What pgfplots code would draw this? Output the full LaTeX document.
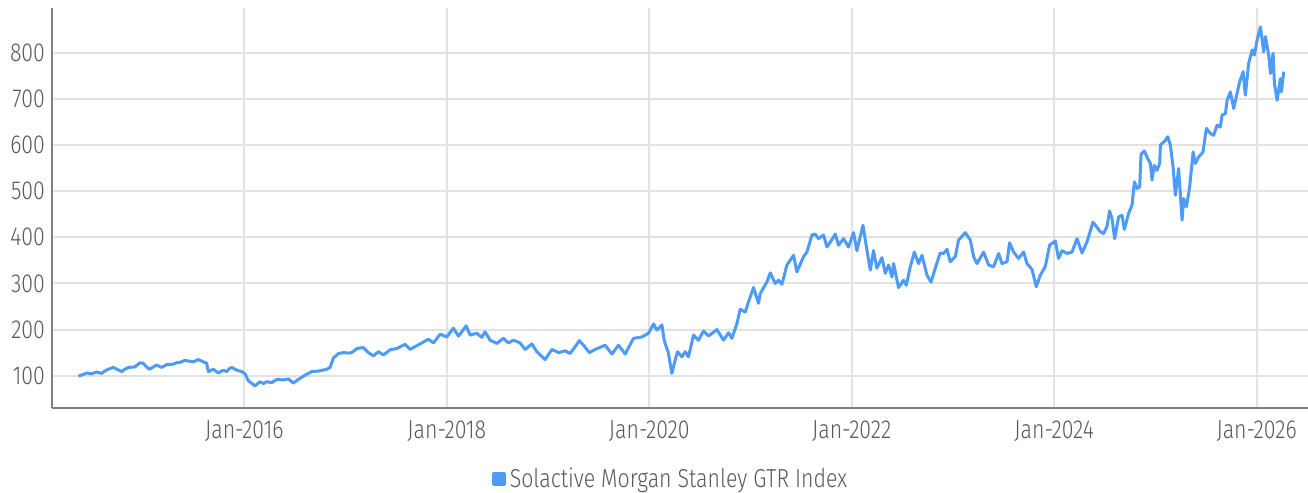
\documentclass[border=0pt]{standalone}
\usepackage{fontspec}
\setmainfont{Fira Sans Light}[FakeStretch=0.82]
\usepackage{pgfplots}
\pgfplotsset{compat=1.18}
\definecolor{lineblue}{RGB}{77,155,247}
\definecolor{gridgray}{RGB}{226,226,226}
\definecolor{axisgray}{RGB}{128,128,128}
\definecolor{textgray}{RGB}{89,89,89}
\begin{document}
\begin{tikzpicture}
\path[use as bounding box] (-26pt,-42.5pt) rectangle (628pt,204pt);
\begin{axis}[
  scale only axis, width=628pt, height=200pt,
  xmin=2014.10, xmax=2026.507, ymin=30, ymax=897,
  axis x line*=bottom, axis y line*=left,
  axis line style={axisgray, line width=1pt, -},
  xtick={2016,2018,2020,2022,2024,2026},
  xticklabels={Jan-2016,Jan-2018,Jan-2020,Jan-2022,Jan-2024,Jan-2026},
  ytick={100,200,300,400,500,600,700,800},
  yticklabels={100,200,300,400,500,600,700,800},
  major tick length=0pt,
  grid=major, major grid style={gridgray, line width=1pt},
  tick label style={font=\fontsize{13}{15}\selectfont, text=textgray},
  xticklabel style={yshift=-3pt},
  legend style={at={(0.4935,-0.1775)}, anchor=center, draw=none, fill=none,
    font=\fontsize{13}{15}\selectfont, text=textgray},
  legend image code/.code={\fill[lineblue] (0pt,-2.6pt) rectangle (5.2pt,2.6pt);},
]
\addplot[lineblue, line width=1.5pt, line join=round] table {
x y
2014.360 99
2014.400 102
2014.443 106
2014.490 104
2014.541 108
2014.591 105
2014.620 110
2014.656 114
2014.706 118
2014.750 113
2014.789 109
2014.820 114
2014.854 118
2014.920 119
2014.945 124
2014.969 128
2015.002 127
2015.030 120
2015.061 114
2015.100 119
2015.134 123
2015.184 118
2015.233 124
2015.298 125
2015.330 128
2015.365 129
2015.410 133
2015.447 132
2015.496 130
2015.545 135
2015.595 130
2015.628 127
2015.644 109
2015.694 114
2015.743 106
2015.792 112
2015.826 109
2015.850 115
2015.875 118
2015.925 112
2015.974 109
2016.007 104
2016.040 89
2016.070 84
2016.106 78
2016.155 87
2016.190 83
2016.221 87
2016.271 85
2016.320 92
2016.385 91
2016.435 93
2016.484 84
2016.534 92
2016.583 99
2016.666 109
2016.731 110
2016.814 114
2016.847 118
2016.879 138
2016.929 148
2016.978 150
2017.044 149
2017.080 153
2017.111 159
2017.176 161
2017.225 150
2017.275 143
2017.324 152
2017.374 145
2017.440 156
2017.506 159
2017.588 168
2017.637 157
2017.687 163
2017.753 171
2017.818 179
2017.868 171
2017.934 190
2018.000 184
2018.065 203
2018.115 186
2018.148 195
2018.191 208
2018.230 188
2018.296 192
2018.346 183
2018.378 195
2018.428 177
2018.494 170
2018.559 181
2018.609 171
2018.658 177
2018.724 171
2018.774 157
2018.840 169
2018.889 152
2018.971 135
2019.038 157
2019.103 150
2019.169 154
2019.218 148
2019.268 163
2019.310 176
2019.350 166
2019.409 150
2019.465 157
2019.564 166
2019.630 147
2019.696 166
2019.762 147
2019.844 181
2019.927 184
2019.992 192
2020.042 212
2020.075 199
2020.125 210
2020.147 177
2020.190 148
2020.205 128
2020.223 105
2020.256 134
2020.279 152
2020.322 141
2020.355 152
2020.387 141
2020.437 188
2020.486 177
2020.536 197
2020.585 186
2020.668 200
2020.733 177
2020.783 193
2020.816 181
2020.866 213
2020.898 244
2020.948 238
2020.980 260
2021.030 291
2021.079 257
2021.096 278
2021.162 303
2021.195 323
2021.244 300
2021.277 307
2021.310 298
2021.360 340
2021.425 361
2021.458 325
2021.524 358
2021.557 368
2021.607 405
2021.639 407
2021.672 397
2021.721 405
2021.755 379
2021.804 395
2021.837 407
2021.870 383
2021.919 397
2021.968 379
2022.018 410
2022.051 371
2022.111 426
2022.150 372
2022.183 329
2022.215 371
2022.248 333
2022.298 356
2022.331 322
2022.364 340
2022.397 314
2022.413 343
2022.462 291
2022.512 307
2022.539 296
2022.578 336
2022.618 368
2022.660 343
2022.694 361
2022.743 318
2022.783 303
2022.835 340
2022.874 366
2022.907 365
2022.941 374
2022.973 347
2023.023 358
2023.055 394
2023.122 410
2023.171 394
2023.204 358
2023.237 343
2023.302 368
2023.352 340
2023.401 336
2023.451 365
2023.484 343
2023.534 347
2023.559 388
2023.599 368
2023.648 354
2023.698 368
2023.731 343
2023.781 330
2023.823 293
2023.863 318
2023.912 337
2023.955 383
2024.011 392
2024.043 354
2024.077 371
2024.126 365
2024.176 368
2024.225 397
2024.275 366
2024.324 390
2024.383 433
2024.456 412
2024.488 408
2024.522 424
2024.547 457
2024.571 441
2024.597 397
2024.636 444
2024.670 448
2024.693 417
2024.735 452
2024.769 470
2024.792 520
2024.818 506
2024.844 509
2024.858 580
2024.890 587
2024.923 571
2024.950 560
2024.966 524
2024.989 556
2025.016 545
2025.042 560
2025.049 600
2025.098 610
2025.121 618
2025.147 600
2025.174 553
2025.197 491
2025.229 549
2025.263 437
2025.279 484
2025.306 466
2025.338 509
2025.372 585
2025.394 560
2025.427 574
2025.470 585
2025.503 636
2025.543 625
2025.575 621
2025.609 643
2025.641 639
2025.658 665
2025.691 668
2025.708 697
2025.740 715
2025.773 679
2025.806 712
2025.832 737
2025.866 759
2025.888 708
2025.921 777
2025.955 806
2025.977 795
2026.004 827
2026.037 856
2026.069 802
2026.086 835
2026.119 795
2026.136 755
2026.162 799
2026.175 734
2026.202 697
2026.234 744
2026.244 715
2026.267 759
};
\addlegendentry{Solactive Morgan Stanley GTR Index}
\end{axis}
\end{tikzpicture}
\end{document}
